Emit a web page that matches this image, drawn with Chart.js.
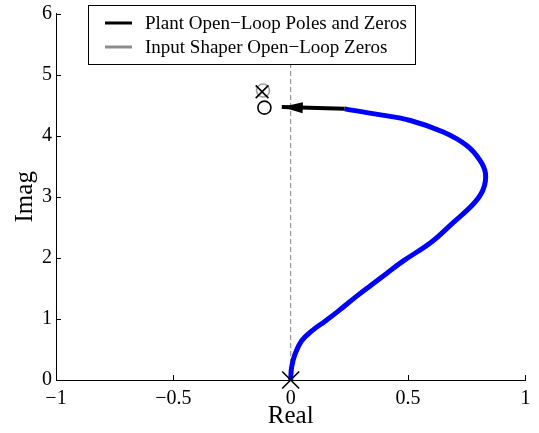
<!DOCTYPE html>
<html>
<head>
<meta charset="utf-8">
<script src="https://cdn.jsdelivr.net/npm/chart.js@4/dist/chart.umd.min.js"></script>
<style>
  html, body { margin: 0; padding: 0; background: #fff; }
  #wrap { width: 539px; height: 433px; }
</style>
</head>
<body>
<div id="wrap"><canvas id="c" width="539" height="433"></canvas></div>
<script>
// root locus branch
const locusX = [0, 0.004, 0.019, 0.046, 0.089, 0.145, 0.20, 0.28, 0.345, 0.41, 0.48, 0.60, 0.69, 0.78, 0.82, 0.83, 0.806, 0.75, 0.65, 0.51, 0.37, 0.23];
const locusY = [0, 0.21, 0.43, 0.64, 0.80, 0.96, 1.12, 1.37, 1.56, 1.75, 1.95, 2.26, 2.57, 2.89, 3.12, 3.38, 3.60, 3.84, 4.06, 4.25, 4.35, 4.44];

// direction arrow at the end of the branch
const arrowX = [0.23, -0.038];
const arrowY = [4.44, 4.47];

// open-loop poles and zeros
const plantPoleX = [0, -0.122];
const plantPoleY = [0, 4.72];
const plantPoleSize = [12, 9];
const plantZeroX = [-0.112];
const plantZeroY = [4.46];
const shaperZeroX = [-0.118];
const shaperZeroY = [4.74];

// imaginary axis
const imagAxisX = [0, 0];
const imagAxisY = [0, 6];

const xTicks = [-1, -0.5, 0, 0.5, 1];
const yTicks = [0, 1, 2, 3, 4, 5, 6];
const legendLabels = ["Plant Open\u2212Loop Poles and Zeros", "Input Shaper Open\u2212Loop Zeros"];
const legendColors = ["#000000", "#8c8c8c"];

const FONT = "'Liberation Serif', 'Times New Roman', serif";

function pts(xs, ys) {
  return xs.map((x, i) => ({ x: x, y: ys[i] }));
}
function minusFmt(v) {
  return v < 0 ? "\u2212" + Math.abs(v) : String(v);
}

// inward ticks, arrow head and legend box
const plugin = {
  id: "plugin",
  afterDatasetsDraw(chart) {
    const { ctx, chartArea: { top, bottom, left }, scales: { x, y } } = chart;
    ctx.save();
    ctx.strokeStyle = "#000";
    ctx.lineWidth = 1;
    ctx.beginPath();
    for (let i = 1; i < xTicks.length; i++) {
      const px = Math.round(x.getPixelForValue(xTicks[i])) + 0.5;
      ctx.moveTo(px, bottom);
      ctx.lineTo(px, bottom - 5);
    }
    for (let i = 1; i < yTicks.length; i++) {
      const py = Math.round(y.getPixelForValue(yTicks[i])) + 0.5;
      ctx.moveTo(left, py);
      ctx.lineTo(left + 5, py);
    }
    ctx.stroke();

    // arrow head
    const n = arrowX.length;
    const tx = x.getPixelForValue(arrowX[n - 1]);
    const ty = y.getPixelForValue(arrowY[n - 1]);
    const fx = x.getPixelForValue(arrowX[n - 2]);
    const fy = y.getPixelForValue(arrowY[n - 2]);
    const ang = Math.atan2(ty - fy, tx - fx);
    const len = 21, half = 5.5;
    ctx.fillStyle = "#000";
    ctx.beginPath();
    ctx.moveTo(tx, ty);
    ctx.lineTo(tx - len * Math.cos(ang) - half * Math.sin(ang), ty - len * Math.sin(ang) + half * Math.cos(ang));
    ctx.lineTo(tx - len * Math.cos(ang) + half * Math.sin(ang), ty - len * Math.sin(ang) - half * Math.cos(ang));
    ctx.closePath();
    ctx.fill();
    ctx.restore();
  },
  afterDraw(chart) {
    const ctx = chart.ctx;
    ctx.save();
    ctx.fillStyle = "#fff";
    ctx.fillRect(88.5, 5.5, 327, 59);
    ctx.strokeStyle = "#000";
    ctx.lineWidth = 1;
    ctx.strokeRect(88.5, 5.5, 327, 59);
    ctx.font = "19px " + FONT;
    ctx.textBaseline = "middle";
    for (let i = 0; i < legendLabels.length; i++) {
      const ly = 23 + i * 24;
      ctx.strokeStyle = legendColors[i];
      ctx.lineWidth = 3;
      ctx.beginPath();
      ctx.moveTo(105, ly);
      ctx.lineTo(132, ly);
      ctx.stroke();
      ctx.fillStyle = "#000";
      ctx.fillText(legendLabels[i], 145, ly + 1);
    }
    ctx.restore();
  }
};

const data = {
  datasets: [
    {
      label: legendLabels[0] + " poles",
      data: pts(plantPoleX, plantPoleY),
      showLine: false,
      clip: false,
      pointStyle: "crossRot",
      pointRadius: plantPoleSize,
      borderColor: "#000",
      borderWidth: 1.6,
      order: 0
    },
    {
      label: legendLabels[0] + " zeros",
      data: pts(plantZeroX, plantZeroY),
      showLine: false,
      clip: false,
      pointStyle: "circle",
      pointRadius: 6.5,
      backgroundColor: "rgba(0,0,0,0)",
      borderColor: "#000",
      borderWidth: 1.6,
      order: 1
    },
    {
      label: legendLabels[1],
      data: pts(shaperZeroX, shaperZeroY),
      showLine: false,
      clip: false,
      pointStyle: "circle",
      pointRadius: 6.5,
      backgroundColor: "rgba(0,0,0,0)",
      borderColor: "#a0a0a0",
      borderWidth: 1.6,
      order: 2
    },
    {
      label: "arrow",
      data: pts(arrowX, arrowY),
      showLine: true,
      pointRadius: 0,
      borderColor: "#000",
      borderWidth: 4,
      order: 3
    },
    {
      label: "locus",
      data: pts(locusX, locusY),
      showLine: true,
      clip: false,
      tension: 0.4,
      pointRadius: 0,
      borderColor: "#0000ff",
      borderWidth: 5,
      order: 4
    },
    {
      label: "imag axis",
      data: pts(imagAxisX, imagAxisY),
      showLine: true,
      pointRadius: 0,
      borderColor: "#808080",
      borderWidth: 1,
      borderDash: [5, 3],
      order: 5
    }
  ]
};

const config = {
  type: "scatter",
  data,
  options: {
    responsive: false,
    animation: false,
    layout: { padding: { top: 7, right: 10, left: 0, bottom: 0 } },
    plugins: {
      legend: { display: false },
      tooltip: { enabled: false }
    },
    scales: {
      x: {
        type: "linear",
        min: -1,
        max: 1,
        afterBuildTicks: (s) => { s.ticks = xTicks.map(v => ({ value: v })); },
        afterFit: (s) => { s.height = 53; s.paddingLeft = 0; s.paddingRight = 0; },
        grid: { display: false, drawTicks: false },
        border: { display: true, color: "#000", width: 1 },
        ticks: {
          color: "#000",
          padding: 7,
          maxRotation: 0,
          font: { family: FONT, size: 20 },
          callback: (v) => minusFmt(v)
        },
        title: {
          display: true,
          text: "Real",
          color: "#000",
          font: { family: FONT, size: 25 },
          padding: { top: 0, bottom: 2 }
        }
      },
      y: {
        type: "linear",
        min: 0,
        max: 6,
        afterBuildTicks: (s) => { s.ticks = yTicks.map(v => ({ value: v })); },
        afterFit: (s) => { s.width = 56; s.paddingTop = 0; s.paddingBottom = 0; },
        grid: { display: false, drawTicks: false },
        border: { display: true, color: "#000", width: 1 },
        ticks: {
          color: "#000",
          padding: 4,
          font: { family: FONT, size: 20 },
          callback: (v) => minusFmt(v)
        },
        title: {
          display: true,
          text: "Imag",
          color: "#000",
          font: { family: FONT, size: 25 },
          padding: { top: 10, bottom: 0 }
        }
      }
    }
  },
  plugins: [plugin]
};

const rootLocus = new Chart(document.getElementById("c"), config);
</script>
</body>
</html>
